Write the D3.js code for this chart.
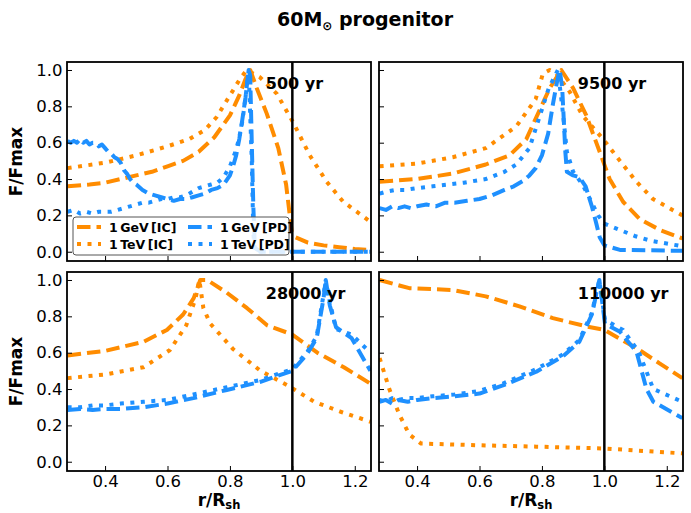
<!DOCTYPE html>
<html><head><meta charset="utf-8">
<script src="https://cdn.jsdelivr.net/npm/d3@7"></script>
<style>body{margin:0;background:#fff}svg{display:block}text{font-family:"DejaVu Sans",sans-serif}</style>
</head><body><svg id="c" width="691" height="513"></svg>
<script>
// ---------- data ----------
const xTicks = [0.4, 0.6, 0.8, 1.0, 1.2];
const yTicks = [0.0, 0.2, 0.4, 0.6, 0.8, 1.0];
const ages = ["500 yr", "9500 yr", "28000 yr", "110000 yr"];
const seriesNames = ["1\u2009GeV\u2009[IC]", "1\u2009TeV\u2009[IC]", "1\u2009GeV\u2009[PD]", "1\u2009TeV\u2009[PD]"];

// 500 yr
const gevIC_500 = [[0.28,.36],[0.35,.37],[0.40,.38],[0.45,.40],[0.50,.42],[0.55,.44],[0.60,.47],[0.65,.50],[0.70,.55],[0.75,.63],[0.80,.75],[0.83,.86],[0.85,.95],[0.865,1.0],[0.886,.90],[0.918,.76],[0.955,.57],[0.98,.37],[0.998,.11],[1.01,.08],[1.05,.05],[1.10,.035],[1.15,.025],[1.20,.015],[1.25,.01]];
const tevIC_500 = [[0.28,.46],[0.40,.49],[0.50,.53],[0.60,.58],[0.67,.62],[0.72,.67],[0.757,.74],[0.80,.86],[0.832,.95],[0.854,1.0],[0.896,.96],[0.95,.87],[1.003,.71],[1.056,.53],[1.11,.385],[1.163,.275],[1.25,.165]];
const gevPD_500 = [[0.28,.61],[0.29,.60],[0.30,.61],[0.31,.60],[0.32,.62],[0.33,.60],[0.34,.61],[0.35,.59],[0.36,.60],[0.37,.60],[0.38,.58],[0.39,.59],[0.40,.57],[0.41,.55],[0.42,.54],[0.43,.52],[0.44,.51],[0.45,.49],[0.46,.45],[0.47,.43],[0.48,.40],[0.49,.38],[0.50,.37],[0.52,.34],[0.54,.32],[0.56,.31],[0.58,.30],[0.60,.29],[0.62,.28],[0.64,.29],[0.66,.29],[0.68,.30],[0.70,.31],[0.72,.32],[0.74,.34],[0.76,.35],[0.78,.37],[0.80,.42],[0.81,.47],[0.82,.53],[0.83,.62],[0.84,.73],[0.85,.85],[0.86,1.0],[0.865,.97],[0.87,.6],[0.875,.25],[0.88,.02],[0.90,0.0],[1.25,0.0]];
const tevPD_500 = [[0.28,.22],[0.30,.23],[0.32,.21],[0.34,.22],[0.36,.21],[0.38,.22],[0.40,.22],[0.42,.22],[0.44,.23],[0.46,.24],[0.48,.25],[0.50,.26],[0.52,.27],[0.54,.27],[0.56,.28],[0.58,.29],[0.60,.29],[0.62,.30],[0.64,.30],[0.66,.31],[0.68,.33],[0.70,.35],[0.72,.36],[0.74,.37],[0.76,.38],[0.78,.41],[0.80,.47],[0.82,.56],[0.83,.63],[0.84,.72],[0.85,.85],[0.86,1.0],[0.87,.5],[0.875,.1],[0.88,0.0],[1.25,0.0]];

// 9500 yr
const gevIC_9500 = [[0.28,.385],[0.40,.40],[0.514,.43],[0.62,.48],[0.696,.53],[0.75,.62],[0.79,.77],[0.825,.90],[0.862,1.0],[0.90,.90],[0.942,.75],[0.985,.55],[1.017,.40],[1.06,.275],[1.113,.18],[1.178,.12],[1.25,.073]];
const tevIC_9500 = [[0.28,.47],[0.40,.485],[0.514,.52],[0.62,.57],[0.718,.69],[0.78,.84],[0.803,.98],[0.825,1.0],[0.846,.98],[0.889,.88],[0.93,.75],[0.996,.62],[1.05,.50],[1.103,.385],[1.156,.29],[1.25,.20]];
const gevPD_9500 = [[0.28,.24],[0.30,.23],[0.32,.25],[0.34,.24],[0.36,.25],[0.38,.24],[0.40,.25],[0.43,.26],[0.46,.25],[0.49,.27],[0.52,.27],[0.56,.28],[0.60,.29],[0.64,.31],[0.68,.34],[0.71,.36],[0.74,.39],[0.76,.42],[0.78,.46],[0.80,.53],[0.82,.65],[0.835,.81],[0.85,.95],[0.857,1.0],[0.865,.90],[0.875,.55],[0.88,.44],[0.90,.42],[0.92,.41],[0.94,.36],[0.96,.25],[0.975,.15],[0.985,.08],[1.0,.035],[1.05,.01],[1.25,.005]];
const tevPD_9500 = [[0.28,.32],[0.30,.33],[0.33,.34],[0.36,.34],[0.40,.35],[0.45,.36],[0.50,.37],[0.55,.38],[0.62,.40],[0.68,.44],[0.718,.48],[0.76,.57],[0.79,.73],[0.822,.90],[0.851,1.0],[0.865,.80],[0.88,.55],[0.90,.44],[0.93,.37],[0.96,.27],[0.98,.20],[1.0,.155],[1.05,.12],[1.10,.085],[1.15,.06],[1.25,.03]];

// 28000 yr
const gevIC_28000 = [[0.28,.585],[0.40,.61],[0.523,.66],[0.598,.725],[0.65,.81],[0.684,.90],[0.705,1.0],[0.727,1.0],[0.79,.93],[0.855,.845],[0.92,.75],[1.0,.70],[1.08,.60],[1.165,.52],[1.25,.43]];
const tevIC_28000 = [[0.28,.46],[0.40,.48],[0.523,.52],[0.608,.615],[0.66,.75],[0.69,.90],[0.702,1.0],[0.715,.845],[0.737,.76],[0.81,.62],[0.898,.50],[0.985,.42],[1.07,.33],[1.155,.275],[1.25,.22]];
const gevPD_28000 = [[0.28,.285],[0.32,.29],[0.36,.285],[0.40,.29],[0.45,.29],[0.523,.30],[0.60,.32],[0.683,.35],[0.79,.395],[0.898,.44],[1.0,.50],[1.046,.59],[1.078,.68],[1.10,.90],[1.107,1.0],[1.12,.86],[1.14,.74],[1.19,.68],[1.25,.50]];
const tevPD_28000 = [[0.28,.30],[0.32,.30],[0.36,.31],[0.40,.31],[0.45,.32],[0.523,.33],[0.60,.34],[0.683,.37],[0.79,.41],[0.898,.45],[1.0,.51],[1.046,.60],[1.078,.69],[1.10,.92],[1.107,1.0],[1.12,.88],[1.14,.73],[1.19,.70],[1.25,.60]];

// 110000 yr
const gevIC_110000 = [[0.28,1.0],[0.343,.97],[0.375,.955],[0.514,.945],[0.62,.91],[0.728,.855],[0.835,.79],[0.942,.745],[1.0,.725],[1.103,.625],[1.178,.54],[1.25,.46]];
const tevIC_110000 = [[0.28,.57],[0.311,.40],[0.343,.26],[0.375,.15],[0.413,.10],[0.568,.092],[0.782,.083],[1.0,.073],[1.25,.046]];
const gevPD_110000 = [[0.28,.33],[0.30,.34],[0.32,.32],[0.34,.34],[0.37,.33],[0.40,.34],[0.45,.35],[0.52,.36],[0.60,.375],[0.675,.42],[0.782,.495],[0.867,.58],[0.92,.66],[0.96,.81],[0.984,1.0],[1.002,.76],[1.05,.715],[1.103,.605],[1.135,.40],[1.157,.33],[1.25,.24]];
const tevPD_110000 = [[0.28,.34],[0.30,.33],[0.32,.35],[0.34,.34],[0.37,.35],[0.40,.35],[0.45,.36],[0.52,.37],[0.60,.39],[0.675,.43],[0.782,.51],[0.867,.59],[0.92,.67],[0.96,.82],[0.984,1.0],[1.002,.78],[1.06,.725],[1.11,.605],[1.157,.40],[1.21,.36],[1.25,.33]];

const panelData = [
  [gevIC_500, tevIC_500, gevPD_500, tevPD_500],
  [gevIC_9500, tevIC_9500, gevPD_9500, tevPD_9500],
  [gevIC_28000, tevIC_28000, gevPD_28000, tevPD_28000],
  [gevIC_110000, tevIC_110000, gevPD_110000, tevPD_110000]
];

// ---------- drawing ----------
const svg = d3.select("#c");
const orange = "#FF8C00", blue = "#1E90FF";
const styles = [
  {c: orange, dash: "13.5,6"},
  {c: orange, dash: "4,6.5"},
  {c: blue, dash: "13.5,6"},
  {c: blue, dash: "4,6.5"}
];
const W = 304, H = 199;
const panels = [
  {x: 67, y: 62, ylab: true, xlab: false},
  {x: 379, y: 62, ylab: false, xlab: false},
  {x: 67, y: 272, ylab: true, xlab: true},
  {x: 379, y: 272, ylab: false, xlab: true}
];
const xs = d3.scaleLinear().domain([0.278, 1.252]).range([0, W]);
const ys = d3.scaleLinear().domain([-0.051, 1.044]).range([H, 0]);

panels.forEach((p, i) => {
  const g = svg.append("g").attr("transform", `translate(${p.x},${p.y})`);
  g.append("clipPath").attr("id", "clip" + i).append("rect").attr("width", W).attr("height", H);
  const line = d3.line().x(d => xs(d[0])).y(d => ys(d[1]));
  const lg = g.append("g").attr("clip-path", `url(#clip${i})`);
  panelData[i].forEach((ser, k) => {
    lg.append("path").datum(ser).attr("d", line)
      .attr("fill", "none").attr("stroke", styles[k].c).attr("stroke-width", 4)
      .attr("stroke-dasharray", styles[k].dash).attr("stroke-linejoin", "round");
  });
  lg.append("line").attr("x1", xs(1.0)).attr("x2", xs(1.0)).attr("y1", 0).attr("y2", H)
    .attr("stroke", "#000").attr("stroke-width", 2.5);

  // axes
  const xa = d3.axisBottom(xs).tickValues(xTicks).tickSizeInner(-5).tickSizeOuter(0).tickPadding(4.5)
    .tickFormat(p.xlab ? d3.format(".1f") : () => "");
  const ya = d3.axisLeft(ys).tickValues(yTicks).tickSizeInner(-5).tickSizeOuter(0).tickPadding(4.5)
    .tickFormat(p.ylab ? d3.format(".1f") : () => "");
  const gx = g.append("g").attr("transform", `translate(0,${H})`).call(xa);
  const gy = g.append("g").call(ya);
  [gx, gy].forEach(a => {
    a.select(".domain").remove();
    a.selectAll("line").attr("stroke", "#000").attr("stroke-width", 1);
    a.selectAll("text").attr("font-size", 16.5).attr("fill", "#000").attr("font-family", "DejaVu Sans");
  });
  g.append("rect").attr("width", W).attr("height", H).attr("fill", "none")
    .attr("stroke", "#000").attr("stroke-width", 1.8);

  g.append("text").attr("x", xs(0.915)).attr("y", 27).attr("font-size", 16)
    .attr("font-weight", "bold").text(ages[i]);

  if (p.ylab) {
    g.append("text").attr("transform", `translate(${-45},${H/2}) rotate(-90)`)
      .attr("text-anchor", "middle").attr("font-size", 17).attr("font-weight", "bold").text("F/Fmax");
  }
  if (p.xlab) {
    const t = g.append("text").attr("x", W/2).attr("y", H + 34.5).attr("text-anchor", "middle")
      .attr("font-size", 17).attr("font-weight", "bold");
    t.append("tspan").text("r/R");
    t.append("tspan").attr("font-size", 11.5).attr("dy", 3.5).text("sh");
  }
});

// legend in first panel
const lgd = svg.append("g").attr("transform", "translate(73,217)");
lgd.append("rect").attr("width", 216).attr("height", 38).attr("rx", 3)
  .attr("fill", "#fff").attr("fill-opacity", 0.85).attr("stroke", "#555").attr("stroke-width", 1);
seriesNames.forEach((n, k) => {
  const col = k >= 2 ? 1 : 0, row = k % 2;
  const gx = 4 + col * 111, gy = 10 + row * 17;
  lgd.append("line").attr("x1", gx).attr("x2", gx + 24).attr("y1", gy).attr("y2", gy)
    .attr("stroke", styles[k].c).attr("stroke-width", 4).attr("stroke-dasharray", styles[k].dash);
  lgd.append("text").attr("x", gx + 32).attr("y", gy + 4.5).attr("font-size", 12.5)
    .attr("font-weight", "bold").text(n);
});

// title
const tt = svg.append("text").attr("x", 365).attr("y", 26).attr("text-anchor", "middle")
  .attr("font-size", 19).attr("font-weight", "bold");
tt.append("tspan").text("60M");
tt.append("tspan").attr("font-size", 12).attr("dy", 4).text("\u2299");
tt.append("tspan").attr("dy", -4).text(" progenitor");
</script></body></html>
